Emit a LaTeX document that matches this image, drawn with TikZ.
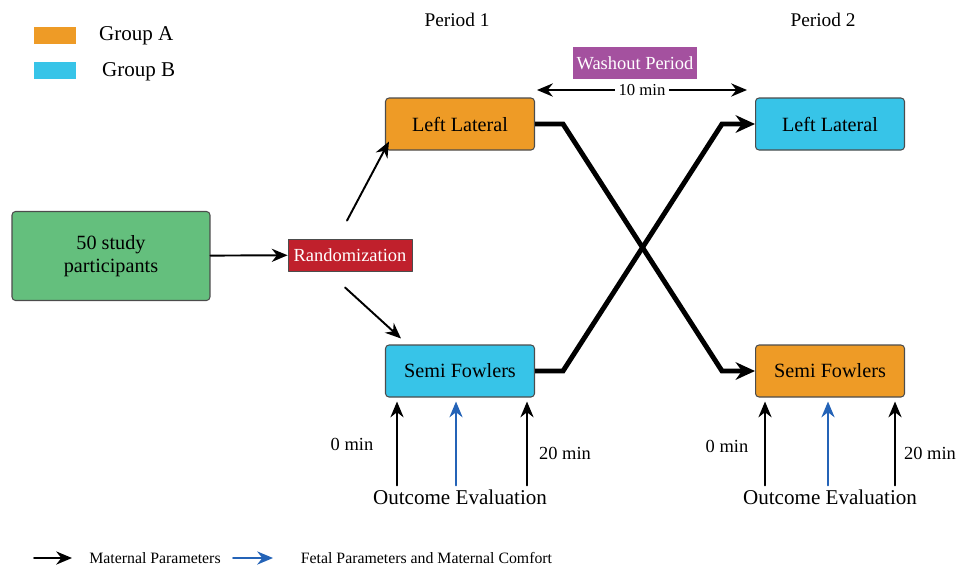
\documentclass[tikz,border=0pt]{standalone}
\usepackage{fontspec}
\setmainfont{Liberation Serif}
\usetikzlibrary{arrows.meta,positioning,calc}
\definecolor{grpA}{HTML}{EE9B26}
\definecolor{grpB}{HTML}{37C4E8}
\definecolor{startgreen}{HTML}{64BF7D}
\definecolor{randred}{HTML}{C0202C}
\definecolor{washpurple}{HTML}{A4519F}
\definecolor{fetalblue}{HTML}{2463B7}
\begin{document}
\begin{tikzpicture}[x=0.02cm,y=-0.02cm,line cap=round,line join=round,
    >={Stealth[length=9pt,width=7.5pt]},
    box/.style={draw=black!70,line width=0.6pt,rounded corners=2pt,minimum width=2.98cm,minimum height=1.04cm,font=\fontsize{11.5}{13}\selectfont},
    legbox/.style={minimum width=0.86cm,minimum height=0.34cm,inner sep=0pt},
    lbl/.style={font=\fontsize{10.5}{12}\selectfont,inner sep=1pt},
    arr/.style={->,line width=1.1pt},
    cross/.style={-{Stealth[length=11pt,width=10pt]},line width=2.8pt,line cap=butt,line join=miter}]
  \useasboundingbox (0,0) rectangle (956,569);
  % legend
  \node[legbox,fill=grpA] (legA) at (55,35) {};
  \node[legbox,fill=grpB] (legB) at (55,70) {};
  \node[lbl,anchor=west,font=\fontsize{12}{13}\selectfont] at (97,36) {Group A};
  \node[lbl,anchor=west,font=\fontsize{12}{13}\selectfont] at (100,72) {Group B};
  \node[lbl,font=\fontsize{11}{12}\selectfont] (per1) at (457,20) {Period 1};
  \node[lbl,font=\fontsize{11}{12}\selectfont] (per2) at (823,20) {Period 2};
  % boxes
  \node[box,fill=startgreen,minimum width=3.96cm,minimum height=1.78cm,align=center,font=\fontsize{11.5}{13}\selectfont] (start) at (111,256) {50 study\\participants};
  \node[draw=black!70,line width=0.5pt,fill=randred,text=white,minimum width=2.48cm,minimum height=0.64cm,inner sep=1pt,font=\fontsize{10.5}{12}\selectfont] (rand) at (350,255) {Randomization};
  \node[box,fill=grpA] (ll1) at (460,124) {Left Lateral};
  \node[box,fill=grpB] (sf1) at (460,371) {Semi Fowlers};
  \node[box,fill=grpB] (ll2) at (830,124) {Left Lateral};
  \node[box,fill=grpA] (sf2) at (830,371) {Semi Fowlers};
  \node[fill=washpurple,text=white,minimum width=2.48cm,minimum height=0.64cm,inner sep=1pt,font=\fontsize{10.5}{12}\selectfont] (wash) at (635,63) {Washout Period};
  % arrows
  \draw[arr] (start) -- (rand);
  \draw[arr] ($(rand.north)+(-3,-18)$) -- ($(ll1.south west)+(4,-9)$);
  \draw[arr] ($(rand.south)+(-5,16)$) -- ($(sf1.north west)+(16,-6)$);
  \coordinate (wl) at (537,90);
  \coordinate (wr) at (747,90);
  \draw[<->,line width=1.3pt] (wl) -- (wr) node[midway,fill=white,inner sep=2pt,font=\fontsize{9.5}{10}\selectfont] {10 min};
  \draw[cross] (ll1.east) -- ($(ll1.east)+(28,0)$) -- ($(sf2.west)+(-33,0)$) -- (sf2.west);
  \draw[cross] (sf1.east) -- ($(sf1.east)+(28,0)$) -- ($(ll2.west)+(-33,0)$) -- (ll2.west);
  % outcome evaluation
  \node[lbl,font=\fontsize{12}{13}\selectfont] (oe1) at (460,497) {Outcome Evaluation};
  \node[lbl,font=\fontsize{12}{13}\selectfont] (oe2) at (830,497) {Outcome Evaluation};
  \foreach \n/\x in {a/397,b/456,c/527,d/765,e/828,f/895}{
    \coordinate (p\n) at (\x,0);
  }
  \foreach \n/\c/\s in {a/black/sf1,b/fetalblue/sf1,c/black/sf1,d/black/sf2,e/fetalblue/sf2,f/black/sf2}{
    \draw[arr,\c] ($(p\n |- oe1.north)+(0,-2)$) -- ($(p\n |- \s.south)+(0,4)$);
  }
  \node[lbl] at (352,444) {0 min};
  \node[lbl] at (565,453) {20 min};
  \node[lbl] at (727,446) {0 min};
  \node[lbl] at (930,453) {20 min};
  % bottom legend
  \coordinate (m0) at (34,558);
  \coordinate (m1) at (72,558);
  \coordinate (f0) at (233,558);
  \coordinate (f1) at (273,558);
  \draw[arr] (m0) -- (m1) node[right=6pt,font=\fontsize{9}{10}\selectfont,text=black] {Maternal Parameters};
  \draw[arr,fetalblue] (f0) -- (f1) node[right=12pt,font=\fontsize{9}{10}\selectfont,text=black] {Fetal Parameters and Maternal Comfort};
\end{tikzpicture}
\end{document}
